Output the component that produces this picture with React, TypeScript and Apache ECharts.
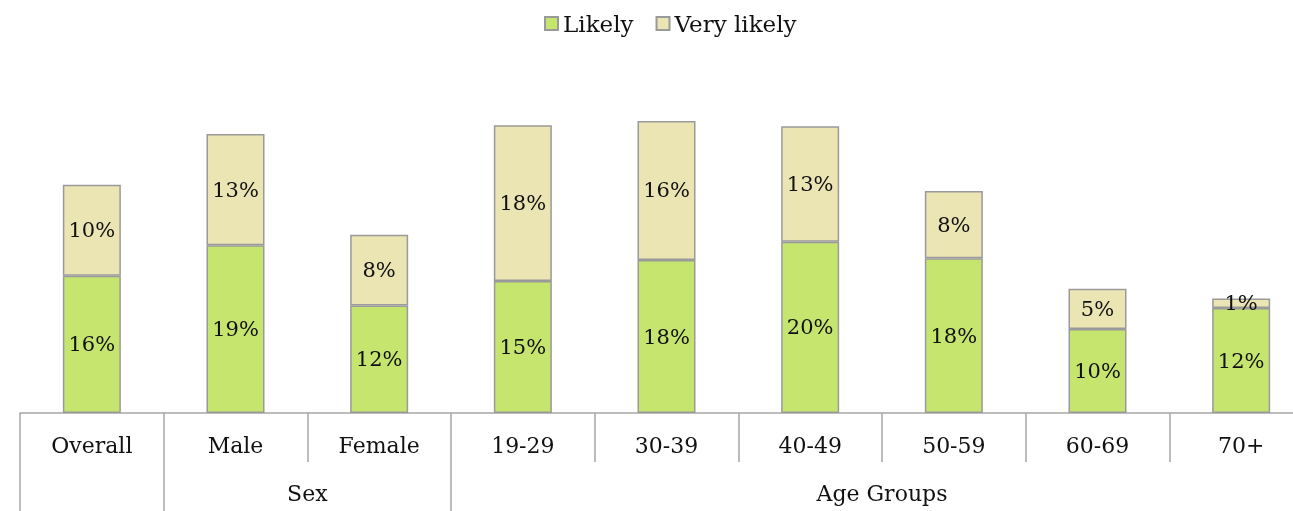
import React, { useEffect, useRef } from "react";
import * as echarts from "echarts";

const categories = ["Overall", "Male", "Female", "19-29", "30-39", "40-49", "50-59", "60-69", "70+"];
const likely = [15.7, 19.2, 12.3, 15.1, 17.5, 19.6, 17.7, 9.6, 12.0];
const veryLikely = [10.4, 12.7, 8.1, 17.8, 15.9, 13.2, 7.7, 4.6, 1.1];
const groupLabels: Record<number, string> = { 2: "Sex", 6: "Age Groups" };
const groupBoundaries = [0, 1, 3, 9];

const FONT = "DejaVu Serif";

export default function App() {
  const ref = useRef<HTMLDivElement>(null);
  useEffect(() => {
    if (!ref.current) return;
    const chart = echarts.init(ref.current, null, { renderer: "svg" });
    const labelStyle = {
      show: true,
      position: "inside",
      color: "#111",
      fontFamily: FONT,
      fontSize: 21,
      formatter: (p: any) => Math.round(p.value) + "%",
    };
    chart.setOption({
      animation: false,
      textStyle: { fontFamily: FONT },
      legend: {
        top: 7,
        left: 539,
        itemWidth: 13,
        itemHeight: 13,
        itemGap: 22,
        icon: "rect",
        textStyle: { fontFamily: FONT, fontSize: 23, color: "#111" },
        data: ["Likely", "Very likely"],
      },
      grid: { left: 20, right: 0, top: 107, bottom: 98 },
      xAxis: [
        {
          type: "category",
          data: categories,
          boundaryGap: true,
          axisLine: { show: true, lineStyle: { color: "#a6a6a6", width: 1.5 } },
          axisTick: { show: true, length: 49, interval: 0, lineStyle: { color: "#a6a6a6", width: 1.5 } },
          axisLabel: { interval: 0, margin: 21, fontFamily: FONT, fontSize: 22, color: "#111" },
        },
        {
          type: "value",
          position: "bottom",
          offset: 49,
          min: 0,
          max: 9,
          axisLine: { show: false },
          splitLine: { show: false },
          axisTick: {
            show: true,
            length: 49,
            customValues: groupBoundaries,
            lineStyle: { color: "#a6a6a6", width: 1.5 },
          },
          axisLabel: {
            margin: 20,
            fontFamily: FONT,
            fontSize: 22,
            color: "#111",
            customValues: [2, 6],
            formatter: (v: number) => groupLabels[v] ?? "",
          },
        },
      ],
      yAxis: { type: "value", min: 0, max: 35, show: false, splitLine: { show: false } },
      series: [
        {
          name: "Likely",
          type: "bar",
          stack: "total",
          barWidth: 58,
          data: likely,
          itemStyle: { color: "#c5e56f", borderColor: "#9a9a9a", borderWidth: 1.5 },
          label: labelStyle,
        },
        {
          name: "Very likely",
          type: "bar",
          stack: "total",
          barWidth: 58,
          data: veryLikely,
          itemStyle: { color: "#ebe4b3", borderColor: "#9a9a9a", borderWidth: 1.5 },
          label: labelStyle,
        },
      ],
    });
    return () => chart.dispose();
  }, []);
  return (
    <div style={{ position: "fixed", left: 0, top: 0, width: 1293, height: 511, overflow: "hidden" }}>
      <div ref={ref} style={{ width: 1313, height: 511 }} />
    </div>
  );
}
